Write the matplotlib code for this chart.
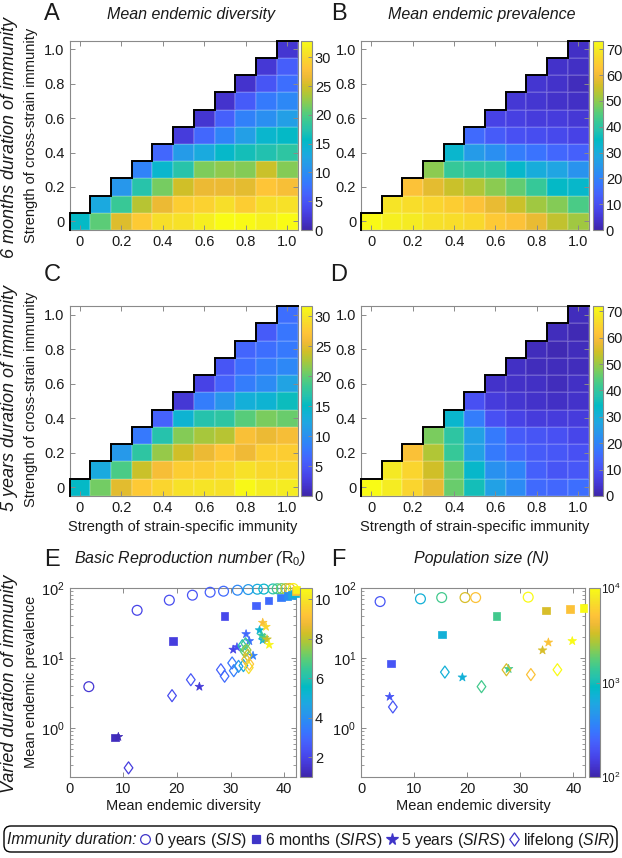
import numpy as np
import matplotlib
matplotlib.use("Agg")
import matplotlib.pyplot as plt
from matplotlib.colors import LinearSegmentedColormap, Normalize, LogNorm
from matplotlib.lines import Line2D
from matplotlib.patches import FancyBboxPatch
from matplotlib.path import Path
from matplotlib.cm import ScalarMappable
import matplotlib.ticker as mticker

plt.rcParams['font.family'] = ['Liberation Sans', 'DejaVu Sans']
plt.rcParams['mathtext.fontset'] = 'custom'
plt.rcParams['mathtext.rm'] = 'Liberation Sans'
plt.rcParams['mathtext.it'] = 'Liberation Sans:italic'
plt.rcParams['mathtext.bf'] = 'Liberation Sans:bold'
plt.rcParams['text.color'] = '#1a1a1a'

# ---------------- data ----------------
strain_specific = [0.0, 0.1, 0.2, 0.3, 0.4, 0.5, 0.6, 0.7, 0.8, 0.9, 1.0]
cross_strain = [0.0, 0.1, 0.2, 0.3, 0.4, 0.5, 0.6, 0.7, 0.8, 0.9, 1.0]
hm_ticks = [0.0, 0.2, 0.4, 0.6, 0.8, 1.0]
hm_ticklabels = ['0', '0.2', '0.4', '0.6', '0.8', '1.0']

# rows: cross-strain level j (bottom -> top), values for strain-specific >= cross-strain
div_6m = [
    [15.5, 20.5, 25.7, 28.7, 30.4, 30.7, 31.7, 33.0, 32.7, 32.0, 33.0],
    [13.0, 18.8, 24.0, 26.4, 29.0, 29.4, 30.4, 29.0, 30.4, 30.7],
    [11.0, 17.5, 21.5, 25.0, 26.4, 26.4, 26.0, 28.4, 27.4],
    [9.0, 14.9, 17.5, 21.8, 22.4, 22.0, 24.8, 22.0],
    [6.6, 11.5, 13.2, 15.2, 16.5, 17.2, 18.0],
    [2.6, 6.6, 9.2, 11.9, 14.9, 15.5],
    [2.0, 6.0, 8.9, 10.2, 11.9],
    [1.7, 5.6, 8.3, 9.6],
    [1.7, 5.0, 7.3],
    [2.3, 5.9],
    [2.0],
]
prev_6m = [
    [73.0, 71.0, 70.0, 68.0, 67.5, 66.7, 63.8, 62.3, 58.6, 54.2, 51.3],
    [69.0, 67.5, 66.0, 64.5, 62.3, 58.6, 55.0, 51.3, 49.0, 44.0],
    [62.3, 58.0, 55.0, 52.8, 49.8, 46.2, 41.8, 34.5, 33.7],
    [49.8, 41.8, 40.3, 39.6, 33.7, 30.0, 27.9, 23.5],
    [33.0, 25.7, 22.7, 19.0, 16.9, 14.7, 13.2],
    [15.4, 12.5, 10.3, 9.5, 8.8, 7.3],
    [7.3, 6.6, 5.9, 5.9, 5.1],
    [5.1, 4.4, 3.7, 2.9],
    [4.4, 3.7, 2.2],
    [3.7, 2.9],
    [2.9],
]
div_5y = [
    [14.9, 20.6, 25.0, 27.6, 28.5, 29.5, 29.8, 29.5, 31.4, 30.4, 30.4],
    [12.7, 19.0, 23.8, 26.3, 27.9, 27.9, 28.5, 29.5, 28.8, 28.8],
    [10.8, 17.4, 21.9, 24.1, 25.4, 27.3, 25.7, 27.9, 27.9],
    [7.9, 16.8, 21.2, 22.5, 23.1, 26.6, 25.4, 26.3],
    [6.0, 13.9, 16.8, 17.4, 19.6, 20.9, 20.3],
    [2.2, 8.2, 10.5, 13.3, 13.9, 15.5],
    [3.2, 6.0, 8.2, 9.5, 12.0],
    [4.8, 7.0, 8.2, 9.2],
    [6.3, 7.0, 7.9],
    [5.4, 7.6],
    [7.0],
]
prev_5y = [
    [72.0, 69.0, 64.8, 57.6, 46.0, 36.0, 26.6, 21.6, 15.0, 14.4, 15.8],
    [68.4, 64.8, 54.7, 46.0, 33.0, 23.0, 20.0, 13.0, 10.8, 11.5],
    [60.5, 51.8, 41.0, 26.6, 18.0, 14.4, 12.2, 11.5, 10.0],
    [47.5, 39.6, 26.6, 18.0, 12.2, 10.8, 10.0, 7.9],
    [32.4, 18.7, 10.0, 7.2, 5.8, 5.8, 5.8],
    [10.0, 5.8, 4.3, 3.6, 2.9, 3.6],
    [3.6, 3.2, 2.9, 2.2, 2.9],
    [2.9, 2.2, 2.2, 2.2],
    [2.2, 1.4, 2.2],
    [2.2, 1.4],
    [2.2],
]
div_cticks = [0, 5, 10, 15, 20, 25, 30]
prev_cticks = [0, 10, 20, 30, 40, 50, 60, 70]

# Panel E: varying R0
sis_div = [3.6, 12.6, 18.6, 22.9, 26.2, 28.7, 31.3, 33.3, 35.0, 36.2, 37.9, 38.7, 39.5, 40.3, 41.0, 41.7]
sis_prev = [3.9, 48, 67, 79, 87, 90, 93, 95, 96, 96.5, 97, 97.5, 98, 98, 98.5, 98.5]
sis_r0 = [1.6, 2.0, 2.2, 2.4, 2.7, 3.0, 3.8, 4.3, 4.9, 5.3, 6.0, 6.6, 7.2, 7.9, 8.7, 10.3]

sirs6m_div = [8.5, 19.3, 28.9, 34.8, 37.1, 39.4, 40.6, 41.4, 42.0, 42.1, 42.3]
sirs6m_prev = [0.73, 17.5, 40, 56, 66, 73, 77, 80, 83, 90, 95]
sirs6m_r0 = [1.3, 1.8, 2.1, 2.8, 3.0, 3.4, 3.9, 4.5, 5.2, 9.0, 10.3]

sirs5y_div = [9.1, 24.2, 30.5, 31.2, 32.9, 33.5, 34.2, 35.4, 35.8, 36.0, 36.3, 36.8, 36.0, 36.6, 37.2]
sirs5y_prev = [0.75, 3.9, 13.2, 14.3, 22.0, 17.5, 10.8, 25.0, 21.0, 18.0, 19.5, 18.5, 32.0, 28.0, 15.5]
sirs5y_r0 = [1.2, 1.7, 2.0, 2.3, 3.0, 3.2, 3.6, 5.2, 6.3, 5.0, 7.0, 8.2, 9.0, 9.6, 10.4]

sir_div = [11.0, 19.1, 22.6, 28.2, 28.9, 30.3, 30.6, 31.5, 32.4, 32.2, 32.8, 32.6, 33.0, 33.2, 32.9, 33.5, 33.4]
sir_prev = [0.27, 2.9, 4.9, 6.8, 5.5, 8.5, 6.6, 7.6, 7.8, 15.0, 16.0, 12.5, 13.0, 11.0, 9.5, 8.2, 7.3]
sir_r0 = [1.8, 2.2, 2.5, 2.8, 3.0, 3.3, 3.5, 4.2, 4.8, 6.0, 6.5, 7.0, 7.6, 8.1, 8.6, 9.2, 9.8]
r0_ticks = [2, 4, 6, 8, 10]

# Panel F: varying population size
pop_N = [200, 700, 1500, 3500, 5000, 10000]
sisN_div = [3.6, 11.2, 15.2, 19.6, 21.6, 31.5]
sisN_prev = [64, 70, 73, 73, 73, 74]
sirs6mN_div = [5.6, 15.3, 25.5, 34.9, 39.4, 41.9]
sirs6mN_prev = [8.3, 21.8, 40, 48, 50, 52]
sirs5yN_div = [5.4, 19.1, 27.8, 34.2, 35.3, 39.8]
sirs5yN_prev = [2.8, 5.3, 7.0, 12.9, 16.7, 17.5]
sirN_div = [6.0, 15.8, 22.7, 27.4, 32.0, 37.0]
sirN_prev = [2.0, 6.3, 3.9, 6.8, 5.8, 6.8]

# ---------------- colormap (parula-like) ----------------
_parula = [
    (0.2422, 0.1504, 0.6603), (0.2647, 0.1978, 0.7952), (0.2783, 0.2559, 0.8991),
    (0.2810, 0.3228, 0.9579), (0.2699, 0.3892, 0.9906), (0.2206, 0.4603, 0.9973),
    (0.1786, 0.5289, 0.9682), (0.1540, 0.5902, 0.9218), (0.1248, 0.6459, 0.8883),
    (0.0689, 0.6948, 0.8394), (0.0067, 0.7312, 0.7660), (0.1408, 0.7584, 0.6842),
    (0.2161, 0.7843, 0.5923), (0.3406, 0.8008, 0.4789), (0.5044, 0.7993, 0.3480),
    (0.6720, 0.7793, 0.2227), (0.8203, 0.7498, 0.1535), (0.9393, 0.7288, 0.2100),
    (0.9970, 0.7659, 0.2199), (0.9786, 0.8386, 0.1766), (0.9597, 0.9135, 0.1423),
    (0.9769, 0.9839, 0.0805)]
parula = LinearSegmentedColormap.from_list('parula', _parula, N=256)

# MATLAB-like diamond marker (a little narrower than tall)
DIAMOND = Path([(0, 1), (0.72, 0), (0, -1), (-0.72, 0), (0, 1)],
               [Path.MOVETO, Path.LINETO, Path.LINETO, Path.LINETO, Path.CLOSEPOLY])

W, H = 622, 858
fig = plt.figure(figsize=(W / 100, H / 100), dpi=100)
SPINE = '#8a8a8a'
TXT = '#1a1a1a'
FS = 10.5


def add_ax(l, t, r, b):
    return fig.add_axes([l / W, 1 - b / H, (r - l) / W, (b - t) / H])


def style_axes(ax):
    for s in ax.spines.values():
        s.set_color(SPINE)
        s.set_linewidth(0.8)
    ax.tick_params(direction='in', top=True, right=True, color=SPINE, labelcolor=TXT,
                   labelsize=FS, length=3.5, width=0.7)
    ax.tick_params(which='minor', direction='in', top=True, right=True, color=SPINE,
                   length=2, width=0.6)


def style_cbar(cax, fs=FS, pad=2):
    cax.tick_params(direction='in', color=SPINE, labelcolor=TXT, labelsize=fs,
                    length=3, width=0.7, pad=pad)
    cax.tick_params(which='minor', length=0)
    for s in cax.spines.values():
        s.set_color(SPINE)


def heatmap(box, cbox, rows, vmax, cticks):
    ax = add_ax(*box)
    xs = np.array(strain_specific)
    ys = np.array(cross_strain)
    n = len(xs)
    grid = np.full((n, n), np.nan)
    for j, row in enumerate(rows):
        grid[j, j:j + len(row)] = row
    h = 0.05
    xe = np.concatenate([xs - h, [xs[-1] + h]])
    ye = np.concatenate([ys - h, [ys[-1] + h]])
    mesh = ax.pcolormesh(xe, ye, np.ma.masked_invalid(grid), cmap=parula, vmin=0, vmax=vmax,
                         edgecolors=(1, 1, 1, 0.12), linewidth=0.3)
    sx = [xs[0] - h]
    sy = [ys[0] - h]
    for j in range(n):
        sx.append(xs[j] - h)
        sy.append(ys[j] + h)
        sx.append(xs[j + 1] - h if j < n - 1 else xs[-1] + h)
        sy.append(ys[j] + h)
    ax.plot(sx, sy, color='black', lw=1.4, solid_joinstyle='miter', clip_on=False, zorder=5)
    ax.set_xlim(xs[0] - h, xs[-1] + h)
    ax.set_ylim(ys[0] - h, ys[-1] + h)
    ax.set_xticks(hm_ticks)
    ax.set_xticklabels(hm_ticklabels)
    ax.set_yticks(hm_ticks)
    ax.set_yticklabels(hm_ticklabels)
    style_axes(ax)
    cax = add_ax(*cbox)
    cb = fig.colorbar(mesh, cax=cax)
    cb.set_ticks(cticks)
    cb.outline.set_edgecolor(SPINE)
    style_cbar(cax)
    return ax


heatmap((69.5, 40.7, 297.5, 230), (301, 40.7, 312, 230), div_6m, 32.9, div_cticks)
heatmap((361, 40.7, 588.5, 230), (593, 40.7, 603, 230), prev_6m, 73.3, prev_cticks)
heatmap((69.5, 306, 297.5, 496), (301, 306, 312, 496), div_5y, 31.7, div_cticks)
heatmap((361, 306, 588.5, 496), (593, 306, 603, 496), prev_5y, 72.0, prev_cticks)


def scatter_panel(box, cbox, norm, series, cticks, logcb=False):
    ax = add_ax(*box)
    for (xv, yv, cv, mk, filled, sz) in series:
        cols = parula(norm(np.array(cv, dtype=float)))
        if filled:
            ax.scatter(xv, yv, s=sz, marker=mk, c=cols, edgecolors=cols, linewidths=0.5,
                       clip_on=False, zorder=3)
        else:
            ax.scatter(xv, yv, s=sz, marker=mk, facecolors='none', edgecolors=cols,
                       linewidths=0.9, clip_on=False, zorder=3)
    ax.set_yscale('log')
    ax.set_ylim(0.2, 100)
    ax.set_xlim(0, 42.2)
    ax.set_xticks([0, 10, 20, 30, 40])
    ax.yaxis.set_major_locator(mticker.FixedLocator([1, 10, 100]))
    ax.yaxis.set_major_formatter(mticker.FixedFormatter(['$10^{0}$', '$10^{1}$', '$10^{2}$']))
    ax.yaxis.set_minor_locator(mticker.LogLocator(base=10, subs=np.arange(2, 10), numticks=20))
    ax.yaxis.set_minor_formatter(mticker.NullFormatter())
    style_axes(ax)
    cax = add_ax(*cbox)
    sm = ScalarMappable(norm=norm, cmap=parula)
    cb = fig.colorbar(sm, cax=cax)
    cb.outline.set_edgecolor(SPINE)
    if logcb:
        cax.yaxis.set_major_locator(mticker.FixedLocator(cticks))
        cax.yaxis.set_major_formatter(mticker.FixedFormatter(['$10^{2}$', '$10^{3}$', '$10^{4}$']))
        cax.yaxis.set_minor_locator(mticker.NullLocator())
        style_cbar(cax, fs=8.5, pad=0.5)
    else:
        cb.set_ticks(cticks)
        style_cbar(cax)
    return ax


normE = Normalize(1.0, 10.56)
scatter_panel((69.5, 588, 296, 777), (300, 588, 312, 777), normE, [
    (sis_div, sis_prev, sis_r0, 'o', False, 50),
    (sirs6m_div, sirs6m_prev, sirs6m_r0, 's', True, 30),
    (sirs5y_div, sirs5y_prev, sirs5y_r0, '*', True, 42),
    (sir_div, sir_prev, sir_r0, DIAMOND, False, 75),
], r0_ticks)

normF = LogNorm(100, 10000)
scatter_panel((361, 588, 585, 777), (589, 588, 600, 777), normF, [
    (sisN_div, sisN_prev, pop_N, 'o', False, 50),
    (sirs6mN_div, sirs6mN_prev, pop_N, 's', True, 30),
    (sirs5yN_div, sirs5yN_prev, pop_N, '*', True, 42),
    (sirN_div, sirN_prev, pop_N, DIAMOND, False, 75),
], [100, 1000, 10000], logcb=True)


def ftext(x, y, s, **kw):
    return fig.text(x / W, 1 - y / H, s, **kw)


# panel letters
for lbl, x, y in [('A', 52, 14), ('B', 339, 14), ('C', 52, 275), ('D', 339, 275),
                  ('E', 52, 560), ('F', 338, 560)]:
    ftext(x, y, lbl, fontsize=17, ha='center', va='center')

# titles
ftext(191, 14, 'Mean endemic diversity', fontsize=11.5, style='italic', ha='center', va='center')
ftext(482, 14, 'Mean endemic prevalence', fontsize=11.5, style='italic', ha='center', va='center')
ftext(190, 559, r'Basic Reproduction number ($\mathrm{R}_{\mathit{0}}$)', fontsize=11.5,
      style='italic', ha='center', va='center')
ftext(482, 559, 'Population size (N)', fontsize=11.5, style='italic', ha='center', va='center')

# row labels
ftext(10, 137, '6 months duration of immunity', fontsize=13, style='italic', rotation=90,
      ha='center', va='center')
ftext(10, 398, '5 years duration of immunity', fontsize=13, style='italic', rotation=90,
      ha='center', va='center')
ftext(10, 684, 'Varied duration of immunity', fontsize=13, style='italic', rotation=90,
      ha='center', va='center')

# axis labels
ftext(31, 135, 'Strength of cross-strain immunity', fontsize=FS, rotation=90, ha='center', va='center')
ftext(31, 399, 'Strength of cross-strain immunity', fontsize=FS, rotation=90, ha='center', va='center')
ftext(31, 682, 'Mean endemic prevalence', fontsize=FS, rotation=90, ha='center', va='center')
ftext(183, 527, 'Strength of strain-specific immunity', fontsize=FS, ha='center', va='center')
ftext(475, 527, 'Strength of strain-specific immunity', fontsize=FS, ha='center', va='center')
ftext(183, 806, 'Mean endemic diversity', fontsize=FS, ha='center', va='center')
ftext(473, 806, 'Mean endemic diversity', fontsize=FS, ha='center', va='center')

# ---------------- bottom legend ----------------
box = FancyBboxPatch((0.04, 0.06), 6.13, 0.26, boxstyle='round,pad=0,rounding_size=0.07',
                     transform=fig.dpi_scale_trans, facecolor='white', edgecolor='black',
                     linewidth=1.0)
fig.add_artist(box)
LEG_C = '#3f35c8'
LEG_FS = 11.3
ycen = 838
items = [
    ('t', 'Immunity duration:', 'italic'),
    ('m', 'o', False),
    ('t', r'0 years ($\mathit{SIS}$)', 'normal'),
    ('m', 's', True),
    ('t', r'6 months ($\mathit{SIRS}$)', 'normal'),
    ('m', '*', True),
    ('t', r'5 years ($\mathit{SIRS}$)', 'normal'),
    ('m', 'd', False),
    ('t', r'lifelong ($\mathit{SIR}$)', 'normal'),
]
renderer = fig.canvas.get_renderer()
objs = []
widths = []
MW = 10
GAP = 4
for kind, a, b in items:
    if kind == 't':
        t = ftext(0, ycen, a, fontsize=LEG_FS, style=b, ha='left', va='center_baseline')
        objs.append(t)
        widths.append(t.get_window_extent(renderer).width)
    else:
        objs.append(None)
        widths.append(MW)
total = sum(widths) + GAP * (len(widths) - 1)
x = 311 - total / 2
for (kind, a, b), o, w in zip(items, objs, widths):
    if kind == 't':
        o.set_x(x / W)
    else:
        mk = DIAMOND if a == 'd' else a
        ms = {'o': 7, 's': 6, '*': 8.5, 'd': 9.5}[a]
        ln = Line2D([(x + w / 2) / W], [1 - (ycen + 0.5) / H], transform=fig.transFigure,
                    marker=mk, ls='none', ms=ms, mec=LEG_C,
                    mfc=LEG_C if b else 'none', mew=0.9)
        fig.add_artist(ln)
    x += w + GAP

fig.savefig('out.png', dpi=100)
